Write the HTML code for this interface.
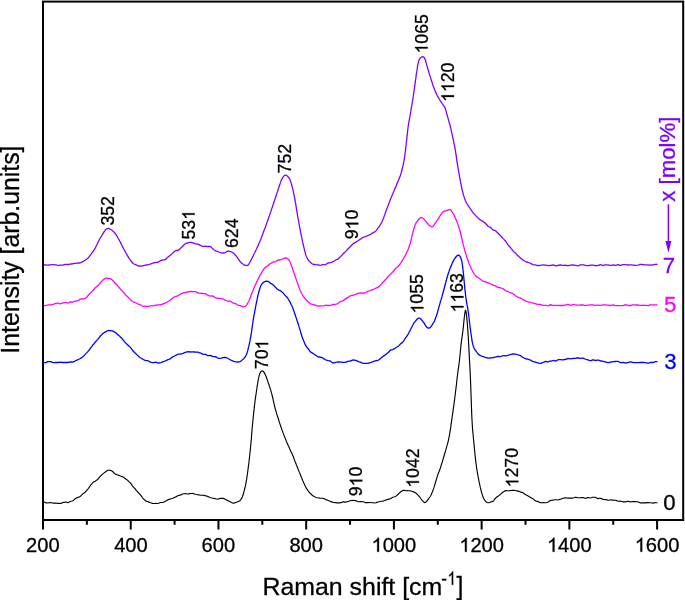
<!DOCTYPE html><html><head><meta charset="utf-8"><style>html,body{margin:0;padding:0;background:#fff;}svg{display:block;will-change:transform;}text{font-family:"Liberation Sans",sans-serif;}</style></head><body>
<svg width="685" height="600" viewBox="0 0 685 600">
<rect x="0" y="0" width="685" height="600" fill="#fff"/>
<g fill="none" stroke-linejoin="round" stroke-linecap="round">
<path d="M43.0,501.6 L43.7,501.8 L44.5,502.3 L45.5,502.8 L46.7,502.9 L47.9,503.0 L49.2,502.8 L50.5,502.6 L51.4,502.8 L52.4,503.0 L53.5,503.1 L54.6,503.1 L55.7,503.1 L56.8,503.2 L57.9,503.4 L59.0,503.4 L60.0,503.5 L61.0,503.4 L62.2,502.7 L63.4,502.4 L64.5,502.2 L65.6,502.1 L66.7,502.3 L67.8,502.6 L68.8,502.3 L69.8,501.7 L70.9,501.3 L72.0,501.0 L73.0,500.7 L74.0,499.9 L74.9,498.9 L75.9,498.3 L76.8,497.9 L77.7,497.6 L78.7,497.1 L79.6,496.7 L80.5,496.2 L81.3,495.4 L82.1,494.6 L82.9,493.9 L83.7,493.3 L84.5,492.8 L85.2,492.2 L85.8,491.4 L86.5,490.6 L87.3,489.7 L87.9,489.0 L88.6,488.1 L89.3,487.1 L90.0,486.0 L90.6,485.1 L91.3,484.3 L92.0,483.6 L92.6,482.9 L93.5,482.1 L94.4,481.6 L95.2,481.2 L96.0,480.6 L96.9,480.0 L97.6,479.5 L98.3,478.7 L99.0,477.8 L99.8,476.9 L100.5,476.0 L101.3,475.3 L102.2,474.4 L103.1,473.6 L104.1,472.9 L105.0,472.2 L105.9,471.6 L106.6,470.9 L108.1,470.2 L109.2,470.3 L110.5,470.4 L112.0,471.0 L112.7,471.6 L113.4,472.2 L114.1,473.0 L115.0,473.7 L116.2,474.4 L117.0,474.7 L117.9,475.0 L118.9,475.4 L119.9,475.8 L121.0,476.2 L122.1,476.6 L123.1,477.1 L124.1,477.7 L125.0,478.3 L125.9,479.0 L126.7,479.6 L127.5,480.2 L128.2,480.9 L128.9,481.6 L129.7,482.3 L130.4,483.0 L131.1,483.9 L131.8,484.9 L132.4,485.8 L133.1,486.6 L133.7,487.3 L134.3,488.0 L135.0,488.7 L135.7,489.5 L136.3,490.3 L137.0,491.1 L137.7,491.9 L138.4,492.8 L139.2,493.5 L139.9,494.3 L140.7,495.2 L141.4,496.2 L142.1,497.3 L142.8,498.2 L143.5,498.9 L144.4,499.7 L145.2,500.5 L146.0,501.1 L146.8,501.4 L147.6,501.5 L148.5,501.9 L149.5,502.4 L150.4,502.7 L151.5,503.0 L152.5,503.4 L153.6,503.5 L154.8,503.5 L155.7,503.4 L156.7,503.5 L157.7,503.5 L158.7,503.3 L159.7,502.8 L160.8,502.5 L161.8,502.5 L162.8,502.5 L163.8,502.1 L164.8,501.6 L165.8,501.1 L166.9,500.4 L167.9,499.8 L168.9,499.4 L169.9,499.1 L170.9,498.7 L171.9,498.5 L172.9,498.2 L173.8,497.7 L174.8,497.3 L175.8,496.9 L176.8,496.3 L177.8,495.7 L178.9,495.4 L179.9,495.2 L181.0,494.9 L182.0,494.3 L183.1,493.8 L184.2,493.7 L185.4,493.6 L186.4,493.7 L187.5,494.0 L188.5,493.9 L189.6,493.6 L190.6,493.5 L191.6,493.5 L192.5,493.4 L193.5,493.6 L194.5,494.0 L195.5,494.3 L196.6,494.5 L197.6,494.8 L198.6,494.9 L199.7,495.0 L200.8,495.2 L201.9,495.2 L202.9,495.2 L204.0,495.4 L205.1,495.7 L206.2,495.9 L207.2,496.2 L208.1,496.6 L209.1,497.0 L210.1,497.5 L211.1,497.8 L212.1,498.0 L213.0,498.2 L214.0,498.5 L214.9,498.6 L215.8,498.8 L216.9,499.0 L218.0,499.1 L219.1,498.8 L220.2,498.4 L221.2,498.3 L222.1,498.3 L223.1,498.3 L223.9,498.6 L225.1,499.3 L226.2,499.7 L227.1,500.2 L227.9,500.7 L228.7,500.9 L229.8,501.4 L230.6,502.0 L231.5,502.5 L232.4,502.9 L233.4,503.1 L234.5,503.0 L235.3,502.6 L236.3,502.3 L237.3,502.0 L238.2,501.5 L239.0,501.2 L240.2,500.4 L241.0,499.3 L241.6,498.4 L242.1,497.4 L242.8,495.8 L243.0,495.0 L243.3,494.1 L243.6,493.0 L243.9,491.9 L244.2,490.8 L244.5,489.6 L244.8,488.5 L245.0,487.5 L245.3,486.4 L245.5,485.4 L245.7,484.4 L245.9,483.4 L246.1,482.3 L246.3,481.2 L246.5,480.0 L246.7,479.1 L246.8,478.1 L246.9,477.1 L247.1,476.1 L247.2,475.0 L247.4,474.0 L247.5,472.9 L247.7,471.8 L247.9,470.6 L248.0,469.5 L248.1,468.6 L248.2,467.6 L248.4,466.7 L248.5,465.7 L248.6,464.8 L248.8,463.8 L248.9,462.8 L249.0,461.8 L249.1,460.7 L249.2,459.7 L249.4,458.6 L249.5,457.5 L249.6,456.6 L249.7,455.6 L249.8,454.7 L249.9,453.7 L250.0,452.7 L250.1,451.7 L250.2,450.7 L250.3,449.6 L250.4,448.6 L250.5,447.6 L250.6,446.5 L250.7,445.5 L250.8,444.5 L250.9,443.5 L251.0,442.5 L251.1,441.4 L251.2,440.4 L251.3,439.3 L251.4,438.2 L251.5,437.1 L251.5,436.0 L251.6,435.0 L251.7,433.9 L251.8,432.9 L251.9,431.8 L252.0,430.8 L252.0,429.9 L252.1,428.9 L252.2,428.0 L252.3,426.8 L252.4,425.7 L252.5,424.7 L252.6,423.7 L252.7,422.8 L252.8,421.8 L252.9,420.9 L253.0,419.8 L253.1,418.7 L253.2,417.5 L253.3,416.6 L253.4,415.7 L253.5,414.7 L253.6,413.7 L253.7,412.7 L253.8,411.6 L253.9,410.6 L254.1,409.5 L254.2,408.4 L254.3,407.4 L254.4,406.3 L254.5,405.3 L254.7,404.3 L254.8,403.3 L254.9,402.3 L255.0,401.2 L255.2,400.0 L255.3,398.9 L255.5,397.8 L255.6,396.7 L255.8,395.6 L256.0,394.6 L256.1,393.5 L256.3,392.5 L256.4,391.5 L256.6,390.5 L256.7,389.5 L256.9,388.4 L257.0,387.2 L257.2,386.1 L257.4,384.9 L257.6,383.9 L257.7,382.8 L257.9,381.8 L258.1,380.8 L258.2,379.9 L258.4,379.0 L258.7,377.6 L259.0,376.4 L259.3,375.2 L259.6,374.2 L259.9,373.3 L260.2,372.6 L261.1,371.3 L261.9,370.9 L262.8,371.0 L263.7,371.9 L264.2,372.6 L264.8,373.6 L265.4,374.9 L265.8,375.8 L266.2,376.8 L266.6,377.9 L267.0,379.1 L267.4,380.3 L267.8,381.4 L268.1,382.4 L268.5,383.3 L268.8,384.3 L269.1,385.2 L269.4,386.2 L269.8,387.2 L270.1,388.2 L270.4,389.2 L270.7,390.1 L271.0,391.1 L271.2,392.1 L271.5,393.2 L271.8,394.2 L272.1,395.4 L272.4,396.5 L272.6,397.5 L272.9,398.5 L273.1,399.6 L273.3,400.6 L273.6,401.7 L273.8,402.8 L274.1,403.9 L274.3,405.0 L274.5,406.0 L274.8,407.0 L275.1,408.1 L275.3,409.1 L275.6,410.0 L275.9,410.9 L276.1,411.9 L276.4,412.9 L276.7,413.9 L277.1,415.1 L277.5,416.3 L277.8,417.2 L278.1,418.1 L278.4,419.0 L278.7,420.0 L279.0,421.0 L279.3,422.0 L279.7,423.1 L280.0,424.1 L280.4,425.2 L280.7,426.3 L281.1,427.3 L281.5,428.4 L281.8,429.4 L282.2,430.4 L282.5,431.3 L282.9,432.4 L283.3,433.4 L283.7,434.4 L284.0,435.4 L284.4,436.3 L284.8,437.3 L285.2,438.2 L285.6,439.2 L286.0,440.1 L286.3,441.0 L286.7,441.9 L287.1,442.9 L287.5,443.8 L287.9,444.7 L288.3,445.7 L288.8,446.6 L289.2,447.5 L289.6,448.5 L290.0,449.4 L290.4,450.3 L290.8,451.2 L291.2,452.1 L291.7,453.0 L292.1,453.9 L292.5,454.9 L292.9,455.8 L293.3,456.7 L293.7,457.7 L294.0,458.7 L294.4,459.7 L294.8,460.8 L295.2,461.8 L295.6,462.7 L296.0,463.7 L296.3,464.7 L296.7,465.6 L297.1,466.6 L297.5,467.5 L297.9,468.5 L298.3,469.5 L298.7,470.4 L299.0,471.4 L299.4,472.4 L299.8,473.3 L300.2,474.3 L300.6,475.3 L301.0,476.3 L301.3,477.2 L301.7,478.2 L302.1,479.1 L302.5,480.0 L302.9,481.0 L303.4,482.0 L303.8,483.0 L304.3,484.0 L304.7,484.9 L305.1,485.8 L305.6,486.7 L306.0,487.6 L306.5,488.4 L307.0,489.2 L307.5,489.9 L308.2,490.9 L308.9,491.8 L309.6,492.7 L310.4,493.5 L311.2,494.2 L312.0,495.0 L312.8,495.7 L313.8,496.3 L314.6,496.8 L315.6,497.2 L316.5,497.5 L317.5,497.8 L318.6,498.0 L319.6,498.1 L320.6,498.2 L321.6,498.2 L322.5,498.3 L323.6,498.6 L324.7,499.1 L325.7,499.6 L326.8,499.9 L327.8,500.3 L328.9,500.7 L330.0,501.3 L331.0,501.6 L332.0,502.0 L333.0,502.4 L334.1,502.5 L335.1,502.6 L336.3,502.8 L337.5,502.8 L338.8,502.9 L339.7,502.8 L340.6,502.8 L341.6,502.4 L342.6,501.9 L343.6,501.8 L344.7,502.1 L345.7,502.1 L346.8,501.8 L347.9,501.6 L348.9,501.2 L349.9,500.7 L350.9,500.5 L351.9,500.5 L353.0,500.4 L354.1,500.5 L355.2,500.6 L356.2,500.8 L357.2,501.5 L358.3,501.8 L359.3,501.7 L360.3,501.5 L361.3,501.6 L362.3,501.7 L363.3,501.8 L364.4,502.2 L365.5,502.6 L366.6,502.6 L367.6,502.6 L368.7,502.6 L369.8,502.5 L370.8,502.5 L371.8,502.7 L372.8,502.7 L373.8,502.8 L374.9,503.0 L375.9,502.8 L376.9,502.4 L377.9,502.0 L378.9,501.8 L379.8,501.5 L380.7,501.3 L381.7,501.2 L382.6,501.2 L383.6,500.9 L384.7,500.5 L385.7,500.1 L386.7,499.7 L387.7,499.4 L388.6,499.1 L389.6,498.9 L390.4,498.7 L391.6,498.0 L392.7,497.3 L393.8,497.0 L394.7,496.7 L395.7,496.3 L396.6,495.6 L397.5,494.8 L398.4,494.0 L399.2,493.1 L400.1,492.3 L401.2,491.5 L402.2,490.8 L403.3,490.2 L404.5,490.4 L405.4,490.7 L406.5,490.7 L407.6,490.6 L408.6,490.7 L409.7,490.8 L410.6,490.9 L411.8,491.3 L412.9,491.6 L413.9,491.9 L415.0,492.5 L415.7,493.0 L416.4,493.5 L417.1,494.1 L417.8,494.8 L418.5,495.7 L419.3,496.5 L420.0,497.4 L420.7,498.5 L421.5,499.5 L422.3,500.6 L423.1,501.4 L423.8,502.1 L424.6,502.6 L425.4,502.5 L426.2,501.9 L427.0,500.9 L427.8,499.8 L428.5,498.8 L429.2,497.9 L429.9,497.0 L430.4,496.2 L430.9,495.3 L431.3,494.5 L431.7,493.6 L432.1,492.6 L432.5,491.6 L432.9,490.4 L433.4,489.1 L433.7,488.3 L434.0,487.4 L434.3,486.4 L434.6,485.3 L435.0,484.2 L435.3,483.1 L435.6,481.9 L436.0,480.8 L436.3,479.7 L436.6,478.6 L436.9,477.6 L437.2,476.6 L437.5,475.7 L437.7,474.9 L438.2,473.5 L438.6,472.6 L438.9,471.9 L439.2,471.2 L439.5,470.4 L440.0,469.1 L440.3,468.3 L440.5,467.5 L440.8,466.6 L441.1,465.6 L441.4,464.6 L441.7,463.6 L442.1,462.5 L442.4,461.5 L442.7,460.4 L443.0,459.3 L443.4,458.2 L443.7,457.1 L444.0,456.0 L444.3,455.1 L444.6,454.0 L444.9,453.0 L445.2,452.0 L445.5,450.9 L445.8,449.9 L446.1,448.8 L446.4,447.8 L446.7,446.7 L447.0,445.7 L447.3,444.7 L447.5,443.8 L447.8,442.8 L448.0,442.0 L448.3,440.8 L448.5,439.8 L448.7,438.8 L448.9,437.9 L449.1,437.0 L449.3,436.1 L449.5,435.2 L449.6,434.2 L449.8,433.1 L450.0,432.0 L450.1,431.1 L450.3,430.2 L450.4,429.3 L450.6,428.3 L450.7,427.3 L450.9,426.3 L451.0,425.3 L451.1,424.2 L451.3,423.2 L451.4,422.1 L451.6,421.1 L451.7,420.0 L451.9,419.0 L452.0,418.0 L452.1,417.0 L452.3,416.0 L452.4,415.0 L452.6,414.1 L452.7,413.1 L452.9,412.1 L453.0,411.1 L453.1,410.1 L453.3,409.1 L453.4,408.1 L453.6,407.1 L453.7,406.1 L453.9,405.1 L454.0,404.0 L454.1,403.0 L454.3,402.1 L454.4,401.1 L454.5,400.1 L454.6,399.0 L454.8,398.0 L454.9,397.0 L455.0,395.9 L455.2,394.9 L455.3,393.9 L455.4,392.8 L455.5,391.8 L455.7,390.8 L455.8,389.9 L455.9,388.9 L456.0,388.0 L456.1,386.9 L456.3,385.9 L456.4,384.8 L456.5,383.8 L456.6,382.9 L456.7,381.9 L456.8,381.0 L456.9,380.0 L457.0,379.0 L457.1,378.1 L457.2,377.1 L457.4,376.1 L457.5,375.0 L457.6,374.1 L457.7,373.1 L457.9,372.1 L458.0,371.1 L458.1,370.1 L458.3,369.1 L458.4,368.1 L458.6,367.1 L458.7,366.1 L458.9,365.1 L459.0,364.0 L459.1,363.0 L459.3,362.0 L459.4,361.0 L459.5,360.0 L459.6,359.0 L459.7,358.0 L459.8,357.0 L459.9,356.0 L460.0,355.0 L460.1,354.0 L460.2,353.0 L460.3,352.0 L460.4,351.0 L460.5,350.0 L460.6,349.0 L460.7,348.0 L460.8,347.0 L460.9,346.0 L461.0,345.0 L461.1,344.0 L461.2,343.0 L461.4,342.0 L461.5,341.0 L461.6,340.0 L461.8,338.9 L461.9,337.9 L462.1,336.9 L462.2,335.9 L462.4,334.9 L462.5,333.9 L462.6,332.9 L462.8,331.9 L462.9,331.0 L463.0,330.0 L463.1,328.9 L463.2,327.9 L463.4,326.8 L463.5,325.7 L463.6,324.6 L463.7,323.5 L463.8,322.4 L463.9,321.3 L464.0,320.3 L464.1,319.3 L464.2,318.4 L464.3,317.5 L464.4,316.7 L464.5,316.0 L464.7,314.2 L464.9,312.7 L465.1,311.6 L465.3,310.8 L465.5,310.3 L465.7,310.6 L466.0,311.5 L466.2,312.9 L466.5,315.0 L466.6,315.7 L466.7,316.5 L466.7,317.3 L466.8,318.3 L466.9,319.2 L467.0,320.2 L467.1,321.3 L467.2,322.4 L467.3,323.5 L467.4,324.6 L467.5,325.7 L467.6,326.8 L467.6,327.9 L467.7,329.0 L467.8,330.0 L467.9,331.0 L467.9,332.0 L468.0,333.0 L468.1,334.0 L468.1,335.0 L468.2,336.0 L468.3,337.0 L468.3,338.0 L468.4,339.0 L468.4,340.0 L468.5,341.0 L468.5,342.0 L468.6,343.0 L468.6,344.0 L468.7,345.0 L468.8,346.0 L468.8,347.0 L468.9,347.9 L468.9,348.9 L469.0,349.8 L469.0,350.8 L469.1,351.7 L469.1,352.7 L469.2,353.6 L469.2,354.6 L469.3,355.6 L469.3,356.7 L469.4,357.8 L469.4,358.9 L469.5,360.0 L469.5,360.9 L469.6,361.7 L469.6,362.5 L469.7,363.4 L469.7,364.2 L469.8,365.0 L469.8,365.8 L469.9,366.7 L469.9,367.5 L470.0,368.4 L470.0,369.4 L470.1,370.3 L470.1,371.3 L470.2,372.4 L470.2,373.5 L470.3,374.6 L470.3,375.9 L470.4,377.2 L470.4,378.5 L470.5,380.0 L470.5,380.8 L470.6,381.6 L470.6,382.4 L470.6,383.3 L470.7,384.2 L470.7,385.1 L470.7,386.1 L470.8,387.0 L470.8,388.0 L470.8,389.1 L470.9,390.1 L470.9,391.2 L470.9,392.2 L471.0,393.3 L471.0,394.4 L471.1,395.5 L471.1,396.6 L471.1,397.8 L471.2,398.9 L471.2,400.0 L471.3,401.1 L471.3,402.2 L471.3,403.4 L471.4,404.5 L471.4,405.6 L471.4,406.7 L471.5,407.8 L471.5,408.8 L471.6,409.9 L471.6,410.9 L471.6,412.0 L471.7,413.0 L471.7,413.9 L471.8,414.9 L471.8,415.8 L471.8,416.7 L471.9,417.6 L471.9,418.4 L472.0,419.2 L472.0,420.0 L472.1,421.5 L472.2,422.8 L472.2,424.1 L472.3,425.3 L472.4,426.4 L472.5,427.5 L472.5,428.5 L472.6,429.4 L472.7,430.4 L472.8,431.2 L472.8,432.1 L472.9,433.0 L473.0,433.8 L473.1,434.6 L473.2,435.5 L473.3,436.3 L473.3,437.2 L473.4,438.1 L473.5,439.0 L473.6,440.0 L473.7,441.0 L473.8,442.0 L473.9,443.0 L474.0,444.1 L474.1,445.1 L474.2,446.1 L474.3,447.2 L474.4,448.2 L474.5,449.2 L474.6,450.3 L474.7,451.3 L474.8,452.3 L474.9,453.3 L475.0,454.3 L475.1,455.3 L475.2,456.3 L475.3,457.2 L475.4,458.2 L475.5,459.1 L475.6,460.0 L475.7,461.1 L475.9,462.2 L476.0,463.3 L476.2,464.3 L476.3,465.4 L476.4,466.4 L476.6,467.4 L476.7,468.4 L476.9,469.4 L477.0,470.3 L477.2,471.3 L477.3,472.2 L477.5,473.2 L477.7,474.1 L477.8,475.0 L478.0,476.0 L478.2,477.1 L478.4,478.1 L478.6,479.2 L478.8,480.3 L479.0,481.4 L479.2,482.4 L479.5,483.5 L479.7,484.5 L479.9,485.5 L480.1,486.5 L480.3,487.4 L480.6,488.3 L480.8,489.2 L481.0,490.1 L481.3,491.3 L481.6,492.5 L482.0,493.6 L482.3,494.7 L482.6,495.7 L482.9,496.6 L483.3,497.5 L483.6,498.3 L484.0,499.1 L484.7,500.2 L485.5,501.2 L486.3,502.0 L487.1,502.5 L488.0,502.7 L488.9,502.6 L489.9,502.3 L491.0,501.9 L492.0,501.8 L493.0,501.4 L493.7,500.6 L494.4,499.7 L495.1,498.7 L495.8,497.9 L496.5,497.3 L497.2,496.8 L498.0,496.3 L498.8,495.6 L499.6,495.0 L500.4,494.4 L501.3,493.6 L502.2,492.8 L503.1,492.1 L504.0,491.5 L505.0,490.9 L506.0,490.6 L507.0,490.7 L508.0,490.8 L509.0,490.7 L510.0,490.6 L511.0,490.5 L512.0,490.3 L513.0,490.3 L514.0,490.4 L515.0,490.5 L516.0,490.7 L517.0,490.9 L517.9,491.1 L518.9,491.4 L519.9,491.7 L520.9,492.1 L522.0,492.4 L523.0,492.8 L524.0,493.5 L524.9,494.2 L525.8,494.8 L526.7,495.2 L527.7,495.7 L528.6,496.3 L529.4,496.8 L530.2,497.2 L531.0,497.7 L532.0,498.3 L532.9,498.8 L533.7,499.4 L534.5,500.2 L535.5,500.9 L536.4,501.2 L537.4,501.4 L538.4,501.8 L539.5,502.4 L540.7,502.7 L542.0,502.7 L542.8,502.6 L543.7,502.6 L544.7,502.8 L545.7,502.7 L546.7,502.5 L547.7,502.2 L548.7,501.7 L549.8,500.8 L550.9,500.4 L551.9,500.3 L552.8,500.1 L553.8,500.0 L554.7,499.8 L555.7,499.7 L556.7,499.8 L557.6,500.0 L558.6,499.8 L559.6,499.4 L560.7,499.2 L561.7,498.7 L562.8,498.3 L563.7,498.2 L564.7,497.9 L565.7,497.8 L566.8,498.0 L567.8,498.1 L568.9,498.1 L569.9,498.1 L571.0,498.1 L572.0,498.1 L573.1,498.0 L574.1,497.7 L575.1,497.3 L576.0,497.3 L577.2,497.7 L578.4,497.8 L579.5,497.7 L580.6,497.7 L581.7,497.6 L582.8,497.6 L583.9,497.8 L584.9,498.2 L585.9,498.3 L586.9,497.9 L588.1,497.5 L589.2,497.7 L590.3,498.0 L591.3,497.8 L592.3,497.3 L593.4,497.2 L594.5,497.3 L595.7,497.4 L596.6,497.9 L597.6,498.4 L598.5,498.6 L599.5,498.3 L600.5,498.2 L601.5,498.6 L602.5,499.2 L603.6,499.4 L604.6,499.5 L605.6,499.6 L606.6,499.8 L607.6,500.1 L608.6,500.2 L609.6,500.0 L610.6,499.9 L611.6,500.0 L612.6,500.1 L613.6,500.1 L614.6,500.2 L615.6,500.3 L616.6,500.6 L617.6,501.1 L618.7,501.2 L619.8,501.1 L620.9,501.2 L622.0,501.5 L623.0,501.8 L624.1,501.8 L625.2,501.9 L626.3,501.8 L627.4,501.3 L628.5,501.3 L629.5,501.7 L630.4,501.9 L631.3,501.8 L632.2,501.6 L633.1,501.6 L634.1,501.6 L635.0,501.6 L636.0,501.7 L637.1,501.8 L638.3,501.9 L639.5,502.5 L640.4,502.9 L641.4,502.9 L642.4,502.9 L643.5,502.9 L644.7,502.9 L645.9,502.9 L647.1,502.6 L648.3,502.5 L649.5,502.7 L650.7,502.8 L651.9,503.0 L652.9,503.1 L653.9,502.9 L654.9,502.7 L655.7,502.6 L656.4,502.7 L657.0,502.8" stroke="#000000" stroke-width="1.15"/>
<path d="M43.0,362.5 L43.6,362.6 L44.2,362.6 L44.9,362.6 L45.7,362.6 L46.6,362.1 L47.6,361.6 L48.6,361.6 L49.7,361.6 L50.8,361.7 L51.9,362.2 L53.1,362.6 L54.3,362.6 L55.5,362.5 L56.7,362.5 L58.0,362.5 L59.2,362.3 L60.4,362.1 L61.6,362.3 L62.7,362.5 L63.8,362.5 L64.9,362.5 L65.9,362.5 L66.9,362.5 L67.8,362.5 L68.6,362.4 L69.3,362.1 L70.0,361.9 L72.2,362.0 L73.4,361.9 L74.1,361.7 L74.6,361.4 L75.1,361.0 L76.0,360.4 L76.8,360.2 L77.6,359.9 L78.5,359.4 L79.4,359.0 L80.3,358.5 L81.3,357.9 L82.2,357.2 L83.2,356.5 L84.1,355.6 L85.0,354.6 L85.7,353.9 L86.4,353.1 L87.1,352.4 L87.8,351.6 L88.5,350.7 L89.2,349.9 L89.8,349.0 L90.5,348.1 L91.2,347.2 L91.9,346.3 L92.6,345.3 L93.3,344.5 L94.0,343.7 L94.7,342.8 L95.4,342.0 L96.1,341.1 L96.8,340.4 L97.6,339.6 L98.3,338.7 L99.0,337.8 L99.7,336.9 L100.4,336.0 L101.1,335.3 L101.7,334.6 L102.4,334.0 L103.0,333.4 L104.1,332.7 L105.1,332.2 L106.1,331.7 L107.0,331.0 L108.0,330.6 L109.0,330.5 L110.0,330.6 L110.8,330.7 L111.7,330.8 L112.6,331.0 L113.4,331.4 L114.3,331.9 L115.2,332.4 L116.1,333.1 L117.1,334.0 L118.0,334.8 L118.7,335.4 L119.5,336.0 L120.2,336.7 L121.0,337.4 L121.8,338.3 L122.5,339.3 L123.3,340.1 L124.1,341.1 L124.8,342.1 L125.6,342.9 L126.3,343.6 L127.0,344.2 L127.8,345.0 L128.6,345.8 L129.4,346.4 L130.1,347.1 L130.8,347.9 L131.5,348.9 L132.3,349.9 L132.9,350.8 L133.6,351.5 L134.3,352.2 L135.1,353.0 L135.9,353.7 L136.6,354.4 L137.3,355.1 L138.0,355.8 L138.8,356.5 L139.5,357.2 L140.4,357.8 L141.3,358.3 L142.3,358.8 L143.2,359.3 L144.2,359.8 L145.3,360.3 L146.4,360.6 L147.5,360.6 L148.6,361.0 L149.5,361.7 L150.5,362.2 L151.6,362.4 L152.6,362.6 L153.7,362.7 L154.8,362.3 L155.8,362.2 L156.9,362.7 L157.9,363.0 L158.8,363.0 L159.9,362.9 L161.0,362.6 L162.0,362.2 L163.0,361.7 L164.0,361.4 L165.0,361.0 L166.0,360.6 L167.0,360.1 L167.9,359.6 L168.9,359.3 L169.8,358.9 L170.8,358.4 L171.7,357.6 L172.6,356.9 L173.5,356.3 L174.4,356.0 L175.2,355.7 L176.3,355.2 L177.3,354.5 L178.2,354.1 L179.2,354.2 L180.2,354.2 L181.3,353.9 L182.2,353.7 L183.2,353.4 L184.2,352.8 L185.3,352.3 L186.3,352.0 L187.4,351.9 L188.5,351.7 L189.5,351.9 L190.5,352.0 L191.6,351.9 L192.7,351.9 L193.7,352.0 L194.8,352.0 L195.8,352.1 L196.8,352.1 L197.7,352.2 L198.8,352.5 L199.8,352.8 L200.8,353.2 L201.7,353.7 L202.7,354.2 L203.8,354.4 L204.7,354.3 L205.7,354.3 L206.7,355.0 L207.8,355.6 L208.8,355.6 L209.9,355.4 L211.0,355.6 L212.0,356.2 L213.0,356.7 L214.1,356.7 L215.1,356.7 L216.2,357.0 L217.2,357.8 L218.2,358.2 L219.2,358.3 L220.1,358.3 L221.2,358.2 L222.2,357.9 L223.1,357.6 L224.1,357.5 L225.1,357.4 L226.3,357.7 L227.1,358.0 L228.0,358.5 L228.9,359.0 L229.9,359.5 L230.8,360.1 L231.8,360.5 L232.8,360.9 L233.7,361.3 L234.7,361.6 L235.5,361.8 L236.7,361.9 L237.8,362.0 L238.8,361.8 L239.9,361.6 L240.9,361.1 L241.8,360.4 L242.6,359.6 L243.5,358.9 L244.2,358.1 L244.9,357.3 L245.5,356.4 L246.1,355.3 L246.7,353.9 L246.9,353.2 L247.2,352.4 L247.4,351.6 L247.7,350.7 L247.9,349.8 L248.2,348.8 L248.4,347.8 L248.7,346.7 L248.9,345.7 L249.2,344.6 L249.4,343.5 L249.6,342.3 L249.9,341.2 L250.1,340.1 L250.3,339.0 L250.5,337.9 L250.7,337.0 L250.9,336.0 L251.0,334.9 L251.2,333.9 L251.4,332.9 L251.5,331.8 L251.7,330.8 L251.8,329.7 L252.0,328.6 L252.1,327.6 L252.3,326.5 L252.4,325.5 L252.6,324.4 L252.7,323.4 L252.9,322.4 L253.0,321.4 L253.1,320.5 L253.3,319.5 L253.5,318.4 L253.7,317.2 L253.9,316.1 L254.1,315.0 L254.3,313.9 L254.5,312.9 L254.7,311.8 L254.8,310.8 L255.0,309.8 L255.2,308.8 L255.4,307.8 L255.6,306.8 L255.8,305.9 L256.0,304.9 L256.2,303.8 L256.4,302.8 L256.6,301.7 L256.9,300.6 L257.1,299.6 L257.3,298.5 L257.5,297.5 L257.7,296.5 L257.9,295.5 L258.2,294.6 L258.4,293.7 L258.6,292.8 L258.8,292.0 L259.2,290.6 L259.6,289.3 L260.0,288.1 L260.3,287.1 L260.7,286.1 L261.1,285.3 L261.5,284.6 L262.4,283.4 L263.3,282.6 L264.3,281.8 L265.4,281.3 L266.7,281.1 L267.9,281.3 L268.8,281.8 L269.7,282.6 L270.6,283.4 L271.6,283.9 L272.3,284.2 L273.0,284.7 L273.8,285.5 L274.6,286.4 L275.4,287.3 L276.2,288.1 L277.1,288.9 L278.0,289.6 L278.9,290.1 L279.8,290.4 L280.8,291.0 L281.7,291.8 L282.5,292.4 L283.3,293.1 L284.1,294.1 L284.9,295.1 L285.7,296.0 L286.5,296.7 L287.2,297.5 L287.8,298.2 L288.3,299.1 L288.8,300.0 L289.4,300.9 L289.9,301.9 L290.4,302.9 L290.9,303.9 L291.3,304.8 L291.8,305.7 L292.2,306.6 L292.6,307.6 L293.0,308.5 L293.3,309.5 L293.7,310.6 L294.1,311.6 L294.4,312.7 L294.8,313.7 L295.1,314.8 L295.5,315.9 L295.8,316.8 L296.2,317.8 L296.5,318.8 L296.8,319.7 L297.1,320.7 L297.5,321.7 L297.8,322.7 L298.1,323.7 L298.4,324.8 L298.8,325.8 L299.1,326.9 L299.4,327.9 L299.7,328.9 L300.0,329.9 L300.3,330.9 L300.6,332.0 L300.9,333.0 L301.2,334.0 L301.5,335.0 L301.8,336.0 L302.1,336.9 L302.5,337.8 L302.8,338.7 L303.2,339.7 L303.6,340.8 L304.1,341.8 L304.5,342.9 L304.9,343.9 L305.4,344.9 L305.9,345.7 L306.4,346.5 L306.9,347.2 L307.4,347.8 L308.0,348.5 L308.7,349.4 L309.3,350.4 L310.0,351.3 L310.7,352.1 L311.5,352.6 L312.2,352.9 L313.0,353.4 L313.8,354.0 L314.6,354.6 L315.6,355.2 L316.5,355.8 L317.5,356.6 L318.4,357.0 L319.4,357.0 L320.3,357.0 L321.3,357.4 L322.1,357.7 L323.3,358.3 L324.4,359.1 L325.5,359.8 L326.5,360.1 L327.5,360.3 L328.5,360.6 L329.6,360.9 L330.7,361.2 L331.8,362.2 L332.9,363.0 L334.0,362.9 L334.9,362.5 L335.9,362.3 L336.8,362.2 L337.8,362.0 L338.9,361.9 L340.0,362.1 L340.9,362.1 L341.9,362.2 L342.9,362.3 L344.0,362.3 L345.0,362.3 L346.1,362.2 L347.1,361.7 L348.0,361.3 L349.2,361.2 L350.3,361.1 L351.4,360.6 L352.5,360.1 L353.5,359.9 L354.5,360.1 L355.8,360.4 L357.0,360.9 L358.1,361.4 L359.3,361.8 L360.3,362.1 L361.4,362.6 L362.5,363.1 L363.7,363.4 L364.9,363.4 L365.9,363.4 L366.9,363.4 L367.9,363.3 L369.0,363.0 L370.1,362.6 L371.1,362.3 L372.1,361.9 L373.2,361.6 L374.3,361.2 L375.4,360.8 L376.4,360.6 L377.5,360.5 L378.5,360.0 L379.4,359.4 L380.2,358.7 L381.0,358.1 L381.8,357.4 L382.6,356.7 L383.4,356.1 L384.2,355.6 L385.0,355.1 L385.8,354.4 L386.6,353.8 L387.4,353.2 L388.2,352.6 L389.0,351.7 L389.8,350.8 L390.7,350.0 L391.7,349.8 L392.6,349.6 L393.5,349.2 L394.5,348.6 L395.4,348.0 L396.2,347.5 L397.0,347.0 L397.8,346.5 L398.6,345.9 L399.4,345.1 L400.2,344.3 L401.0,343.6 L401.6,343.1 L402.3,342.6 L402.9,341.9 L403.6,341.1 L404.2,340.0 L404.8,339.0 L405.5,338.1 L406.0,337.3 L406.6,336.5 L407.2,335.7 L407.7,334.8 L408.3,333.9 L408.8,333.0 L409.2,332.0 L409.7,331.1 L410.2,330.2 L410.7,329.3 L411.2,328.3 L411.7,327.3 L412.2,326.3 L412.7,325.2 L413.2,324.3 L413.7,323.4 L414.2,322.7 L414.7,322.1 L415.5,321.1 L416.2,320.2 L417.0,319.3 L417.7,318.6 L418.4,318.2 L419.8,318.2 L421.1,319.3 L421.7,320.0 L422.3,320.7 L422.9,321.6 L423.6,322.5 L424.3,323.4 L424.9,324.4 L425.5,325.4 L426.2,326.5 L426.9,327.3 L427.6,327.9 L428.3,328.0 L429.0,328.1 L429.7,327.8 L430.4,327.2 L431.1,326.4 L431.8,325.4 L432.5,324.4 L433.1,323.4 L433.6,322.6 L434.0,321.8 L434.5,321.0 L434.9,320.1 L435.2,319.1 L435.6,318.1 L436.0,317.0 L436.4,315.8 L436.7,314.9 L437.0,314.0 L437.3,313.1 L437.5,312.1 L437.8,311.1 L438.1,310.0 L438.4,309.0 L438.7,307.9 L439.0,306.8 L439.3,305.7 L439.6,304.6 L439.9,303.7 L440.1,302.8 L440.4,301.8 L440.7,300.9 L441.0,299.9 L441.3,298.9 L441.6,297.9 L441.9,296.9 L442.1,295.9 L442.4,294.8 L442.7,293.8 L443.0,292.8 L443.3,291.8 L443.6,290.8 L443.9,289.8 L444.1,288.8 L444.4,287.8 L444.6,286.8 L444.9,285.8 L445.2,284.8 L445.4,283.7 L445.7,282.7 L445.9,281.7 L446.2,280.7 L446.5,279.7 L446.7,278.7 L447.0,277.8 L447.2,276.8 L447.5,276.0 L447.9,274.8 L448.2,273.7 L448.6,272.6 L449.0,271.5 L449.3,270.5 L449.7,269.5 L450.1,268.6 L450.4,267.6 L450.8,266.7 L451.2,265.9 L451.5,265.0 L452.0,263.8 L452.5,262.6 L453.0,261.6 L453.5,260.6 L454.0,259.7 L454.5,258.9 L455.0,258.2 L455.9,257.0 L456.8,256.0 L457.7,255.3 L458.5,255.2 L459.2,255.4 L459.8,256.1 L460.4,257.1 L461.0,258.5 L461.5,260.0 L461.7,260.8 L461.9,261.6 L462.1,262.5 L462.2,263.4 L462.3,264.4 L462.5,265.4 L462.6,266.5 L462.7,267.6 L462.9,268.8 L463.0,270.0 L463.1,270.9 L463.2,271.7 L463.3,272.7 L463.4,273.6 L463.5,274.6 L463.6,275.6 L463.7,276.7 L463.8,277.7 L463.9,278.8 L464.0,279.8 L464.1,280.9 L464.2,281.9 L464.3,283.0 L464.4,284.0 L464.5,285.0 L464.6,286.0 L464.7,287.0 L464.8,288.1 L464.9,289.1 L465.0,290.2 L465.2,291.2 L465.3,292.3 L465.4,293.3 L465.5,294.4 L465.6,295.4 L465.7,296.4 L465.9,297.3 L466.0,298.2 L466.1,299.1 L466.2,300.0 L466.4,301.1 L466.5,302.1 L466.7,303.0 L466.9,303.9 L467.0,304.7 L467.2,305.5 L467.4,306.4 L467.6,307.4 L467.8,308.6 L468.0,310.0 L468.1,310.8 L468.2,311.6 L468.3,312.5 L468.5,313.5 L468.6,314.4 L468.7,315.5 L468.8,316.5 L469.0,317.6 L469.1,318.7 L469.2,319.8 L469.4,320.9 L469.5,322.0 L469.6,323.1 L469.8,324.2 L469.9,325.2 L470.0,326.3 L470.1,327.3 L470.3,328.2 L470.4,329.1 L470.5,330.0 L470.7,331.2 L470.8,332.4 L471.0,333.6 L471.2,334.7 L471.3,335.8 L471.5,336.9 L471.6,337.9 L471.8,338.8 L471.9,339.7 L472.0,340.6 L472.2,341.4 L472.3,342.2 L472.5,343.0 L472.8,344.4 L473.1,345.6 L473.5,346.6 L473.8,347.4 L474.1,348.1 L474.5,348.9 L475.1,349.9 L475.7,350.7 L476.3,351.5 L477.0,352.5 L477.7,353.5 L478.5,354.3 L479.2,354.9 L480.0,355.3 L480.9,355.8 L481.8,356.2 L483.0,356.5 L483.8,356.8 L484.7,357.2 L485.8,357.5 L486.8,357.8 L487.9,358.0 L489.0,358.1 L489.9,358.0 L490.9,357.9 L491.9,357.9 L492.9,357.7 L494.0,357.5 L495.0,357.2 L496.0,356.9 L497.0,356.7 L498.0,356.5 L499.0,356.5 L500.0,356.6 L501.0,356.4 L502.0,356.0 L503.0,355.7 L504.0,355.7 L505.0,355.9 L506.0,355.8 L507.0,355.5 L508.0,355.3 L509.0,355.0 L510.0,354.7 L511.0,354.5 L512.0,354.2 L513.0,354.0 L514.0,354.0 L515.0,354.1 L516.0,354.2 L517.0,354.5 L518.0,354.8 L519.0,355.1 L519.9,355.3 L520.9,355.9 L521.9,356.7 L522.9,357.4 L524.0,358.0 L525.0,358.4 L526.0,358.8 L527.0,359.0 L528.0,359.2 L529.0,359.6 L530.0,359.9 L531.0,360.3 L532.0,361.1 L533.1,361.7 L534.1,361.9 L535.1,362.0 L536.1,362.3 L537.0,362.7 L538.0,362.9 L539.0,363.2 L540.0,363.4 L541.0,363.3 L541.9,362.9 L542.9,362.5 L543.9,362.1 L544.9,361.6 L546.0,361.4 L547.0,361.8 L547.9,362.0 L548.9,361.7 L549.9,361.2 L551.0,361.1 L552.0,360.8 L553.0,360.5 L554.0,360.7 L555.0,361.0 L556.0,360.8 L557.0,360.3 L557.9,359.8 L558.9,359.7 L559.9,359.7 L561.0,359.6 L562.0,359.8 L563.0,359.9 L563.9,359.7 L564.9,359.5 L565.9,359.3 L566.9,358.8 L568.0,358.5 L569.0,358.6 L570.0,358.8 L571.0,358.7 L572.0,358.6 L573.0,358.5 L574.0,358.4 L575.0,358.4 L576.0,358.2 L577.0,358.0 L578.0,357.8 L579.0,358.0 L580.0,358.3 L581.0,358.3 L582.0,358.2 L583.1,358.2 L584.1,358.6 L585.1,359.0 L586.1,359.3 L587.2,359.6 L588.2,359.8 L589.2,360.3 L590.2,360.7 L591.2,360.6 L592.2,360.0 L593.3,359.8 L594.3,360.1 L595.3,360.5 L596.3,360.4 L597.3,360.1 L598.3,360.1 L599.3,360.4 L600.3,360.8 L601.3,361.0 L602.3,361.2 L603.3,361.4 L604.4,361.7 L605.4,362.0 L606.4,362.2 L607.4,362.6 L608.4,362.6 L609.5,362.4 L610.5,362.2 L611.6,362.0 L612.6,361.7 L613.7,361.6 L614.7,361.5 L615.7,361.5 L616.6,361.4 L617.7,361.4 L618.7,361.7 L619.6,362.2 L620.5,362.6 L621.5,362.6 L622.6,362.5 L623.9,362.7 L624.8,362.9 L625.7,363.0 L626.7,362.8 L627.7,362.6 L628.8,362.4 L629.9,361.9 L631.0,361.8 L632.2,362.3 L633.3,362.5 L634.4,362.6 L635.5,362.6 L636.6,362.6 L637.7,362.6 L638.8,362.6 L639.9,362.5 L641.1,362.5 L642.2,362.4 L643.3,362.5 L644.4,362.6 L645.5,362.7 L646.6,362.9 L647.6,363.1 L648.5,363.1 L649.4,362.8 L650.8,362.4 L652.2,362.5 L653.4,362.3 L654.5,362.0 L655.5,361.7 L656.4,361.7 L657.0,361.7" stroke="#0000ff" stroke-width="1.3"/>
<path d="M43.0,305.7 L43.6,305.6 L44.3,305.7 L45.2,305.6 L46.1,305.5 L47.2,305.1 L48.3,304.9 L49.5,304.9 L50.6,304.8 L51.8,304.6 L53.0,304.4 L53.9,304.1 L54.9,303.6 L55.9,303.4 L56.9,303.2 L57.9,303.1 L59.0,303.3 L60.1,303.8 L61.1,303.6 L62.2,303.1 L63.2,302.8 L64.2,302.6 L65.1,302.5 L66.0,302.5 L67.2,302.9 L68.4,302.9 L69.6,302.3 L70.7,302.0 L71.8,302.0 L72.8,302.0 L73.8,301.7 L74.7,301.3 L75.5,301.1 L76.9,300.8 L78.0,300.6 L78.9,300.1 L80.0,299.4 L80.9,299.0 L82.0,299.0 L83.0,298.9 L84.1,298.7 L85.1,298.4 L86.0,297.8 L86.9,297.0 L87.6,296.1 L88.3,295.3 L89.1,294.4 L90.0,293.5 L90.6,292.9 L91.3,292.2 L92.0,291.4 L92.8,290.7 L93.6,289.8 L94.4,288.8 L95.2,287.9 L95.9,287.1 L96.7,286.6 L97.4,286.1 L98.2,285.3 L99.0,284.4 L99.7,283.6 L100.5,282.7 L101.2,281.9 L101.9,281.1 L102.6,280.4 L103.3,279.8 L104.4,278.9 L105.4,278.2 L106.4,278.2 L107.3,278.5 L108.3,278.7 L109.3,278.6 L110.2,278.7 L111.2,279.3 L112.2,280.1 L113.3,281.0 L113.9,281.6 L114.5,282.2 L115.2,283.0 L115.9,283.7 L116.5,284.5 L117.2,285.2 L117.9,286.1 L118.6,286.9 L119.3,287.8 L120.0,288.6 L120.7,289.4 L121.3,290.0 L122.0,290.7 L122.7,291.3 L123.4,292.1 L124.0,292.9 L124.7,293.8 L125.4,294.6 L126.0,295.3 L126.7,295.9 L127.5,296.6 L128.4,297.4 L129.2,298.4 L130.0,299.3 L130.8,300.1 L131.6,300.8 L132.5,301.5 L133.3,302.0 L134.2,302.3 L135.2,302.5 L136.1,303.0 L137.0,303.5 L138.0,303.9 L139.0,304.3 L140.0,304.7 L140.9,305.0 L141.9,305.7 L142.8,306.3 L143.8,306.3 L144.9,306.1 L145.9,306.1 L147.1,306.3 L148.3,306.3 L149.3,306.1 L150.3,305.9 L151.5,305.8 L152.7,305.8 L153.9,305.6 L155.1,305.4 L156.3,305.2 L157.4,305.0 L158.4,304.8 L159.3,304.8 L160.0,304.8 L161.5,304.5 L162.0,304.3 L162.9,303.9 L163.7,303.6 L164.7,303.3 L165.8,302.9 L166.9,302.2 L168.0,301.5 L169.0,301.0 L169.9,300.4 L170.8,299.7 L171.7,298.9 L172.5,298.2 L173.3,297.5 L174.2,297.0 L175.2,296.7 L176.3,296.3 L177.3,295.9 L178.3,295.5 L179.3,294.9 L180.3,294.1 L181.3,293.6 L182.3,293.3 L183.4,292.9 L184.3,292.7 L185.3,292.5 L186.3,292.2 L187.4,292.0 L188.5,291.8 L189.5,291.5 L190.5,291.4 L191.5,291.5 L192.6,291.7 L193.6,291.7 L194.6,291.6 L195.6,291.6 L196.6,292.1 L197.6,292.7 L198.5,293.0 L199.5,293.1 L200.6,293.3 L201.7,293.4 L202.6,293.5 L203.6,293.6 L204.6,293.7 L205.7,293.9 L206.7,294.5 L207.8,295.2 L208.9,295.6 L209.9,295.9 L210.9,296.2 L212.0,296.0 L213.1,296.1 L214.1,296.8 L215.2,297.7 L216.2,298.0 L217.2,298.1 L218.1,298.3 L219.2,298.4 L220.2,298.4 L221.2,298.6 L222.2,298.8 L223.1,299.0 L224.2,299.5 L225.2,300.1 L226.2,300.5 L227.3,300.9 L228.3,301.3 L229.4,301.2 L230.4,301.2 L231.4,301.8 L232.5,302.6 L233.5,303.1 L234.5,303.3 L235.4,303.5 L236.4,304.2 L237.5,305.0 L238.5,305.3 L239.5,305.4 L240.6,305.6 L241.7,306.2 L242.7,306.7 L243.7,306.8 L244.5,306.7 L245.5,306.3 L246.2,305.6 L246.9,304.6 L247.5,303.4 L248.3,302.0 L248.7,301.3 L249.1,300.5 L249.5,299.6 L249.9,298.6 L250.3,297.5 L250.7,296.4 L251.1,295.3 L251.6,294.1 L252.0,293.0 L252.4,291.9 L252.8,290.8 L253.2,289.9 L253.6,288.8 L254.1,287.8 L254.5,286.8 L254.9,285.8 L255.4,284.8 L255.8,283.9 L256.2,283.0 L256.6,282.2 L257.0,281.4 L257.3,280.7 L257.9,279.4 L258.5,278.3 L259.0,277.3 L259.5,276.4 L260.0,275.3 L260.5,274.3 L261.1,273.4 L261.7,272.4 L262.2,271.5 L262.8,270.6 L263.3,269.8 L263.9,268.9 L264.5,268.3 L265.1,267.7 L266.0,266.9 L266.7,266.5 L267.4,266.0 L268.3,265.4 L269.2,264.6 L270.1,263.8 L271.1,263.2 L272.0,262.6 L273.0,262.0 L274.0,261.8 L275.0,261.9 L276.0,261.5 L277.0,260.7 L278.0,260.2 L279.0,260.0 L280.1,260.0 L281.1,259.6 L282.2,259.1 L283.2,258.8 L284.1,258.3 L285.0,257.9 L286.2,258.0 L287.2,258.4 L288.2,259.1 L289.2,260.4 L289.6,261.0 L290.0,261.8 L290.3,262.6 L290.7,263.5 L291.1,264.5 L291.4,265.5 L291.8,266.5 L292.2,267.6 L292.6,268.6 L292.9,269.7 L293.3,270.7 L293.6,271.7 L294.0,272.7 L294.3,273.7 L294.7,274.7 L295.0,275.8 L295.3,276.8 L295.7,277.9 L296.0,278.9 L296.4,280.0 L296.7,281.0 L297.1,282.0 L297.4,282.9 L297.8,284.0 L298.2,285.1 L298.6,286.2 L299.0,287.3 L299.4,288.3 L299.8,289.4 L300.2,290.4 L300.6,291.3 L301.0,292.3 L301.5,293.2 L302.1,294.3 L302.7,295.4 L303.3,296.4 L303.9,297.2 L304.5,298.0 L305.2,298.8 L305.9,299.5 L306.6,300.3 L307.4,301.0 L308.1,301.7 L308.9,302.4 L309.8,303.2 L310.6,303.9 L311.6,304.2 L312.6,304.4 L313.7,304.7 L314.6,305.0 L315.5,305.2 L316.5,305.6 L317.5,306.2 L318.6,306.2 L319.7,306.0 L320.8,305.9 L321.9,305.9 L323.0,305.9 L324.0,305.7 L325.0,305.3 L326.1,305.2 L327.1,305.5 L328.2,305.5 L329.3,305.5 L330.3,305.5 L331.3,305.2 L332.3,304.6 L333.3,304.4 L334.3,304.5 L335.2,304.5 L336.2,304.2 L337.2,303.8 L338.2,303.3 L339.2,302.6 L340.1,301.8 L341.0,301.3 L341.9,301.1 L342.7,300.8 L343.4,300.4 L344.5,299.6 L345.5,298.9 L346.3,298.4 L347.1,297.9 L348.0,297.4 L348.8,296.9 L349.6,296.3 L350.4,295.8 L351.4,295.5 L352.4,295.4 L353.6,295.0 L354.4,294.8 L355.4,294.7 L356.4,294.2 L357.4,293.6 L358.5,293.2 L359.6,293.1 L360.7,292.9 L361.8,293.0 L362.8,293.1 L363.8,293.0 L364.9,292.9 L366.0,292.5 L367.1,291.7 L368.1,291.1 L369.2,290.8 L370.2,290.5 L371.2,290.2 L372.1,289.9 L373.0,289.6 L374.2,289.0 L375.2,288.5 L376.1,288.1 L377.0,287.7 L378.0,287.1 L379.0,286.4 L379.7,285.8 L380.4,285.1 L381.1,284.4 L381.8,283.7 L382.5,282.9 L383.2,282.0 L383.9,281.3 L384.6,280.5 L385.3,279.8 L386.0,279.1 L386.8,278.1 L387.5,277.2 L388.2,276.4 L388.9,275.7 L389.6,274.9 L390.4,274.1 L391.2,273.4 L392.0,272.6 L392.7,272.0 L393.4,271.3 L394.1,270.3 L394.8,269.3 L395.6,268.5 L396.4,267.8 L397.2,267.2 L397.9,266.5 L398.6,265.7 L399.3,265.0 L400.0,264.1 L400.6,263.3 L401.2,262.4 L401.8,261.4 L402.4,260.4 L403.0,259.5 L403.5,258.5 L404.0,257.6 L404.6,256.6 L405.1,255.7 L405.5,254.8 L406.0,253.9 L406.5,253.0 L406.9,252.1 L407.4,251.1 L407.8,250.2 L408.2,249.2 L408.6,248.2 L408.9,247.2 L409.3,246.1 L409.6,245.1 L410.0,244.0 L410.3,243.0 L410.6,242.0 L410.8,241.0 L411.1,240.0 L411.3,239.0 L411.6,237.9 L411.8,236.9 L412.0,235.8 L412.3,234.8 L412.5,233.8 L412.8,232.9 L413.0,231.9 L413.3,230.8 L413.6,229.7 L414.0,228.6 L414.3,227.5 L414.6,226.5 L414.9,225.5 L415.3,224.6 L415.6,223.8 L416.0,223.0 L416.6,221.9 L417.3,221.1 L418.0,220.3 L418.7,219.5 L419.4,218.7 L420.0,218.0 L421.1,217.5 L422.2,217.8 L423.3,218.5 L423.9,219.1 L424.6,219.8 L425.3,220.7 L426.1,221.6 L426.8,222.6 L427.5,223.5 L428.3,224.4 L429.2,225.2 L430.0,225.9 L430.9,226.5 L431.7,226.9 L432.5,226.7 L433.3,226.0 L434.2,224.8 L435.0,223.5 L435.8,222.3 L436.4,221.5 L437.0,220.6 L437.6,219.6 L438.3,218.6 L438.9,217.6 L439.4,216.7 L440.0,215.9 L440.7,214.8 L441.4,213.8 L442.0,212.9 L442.6,212.2 L443.3,211.7 L444.4,211.0 L445.6,210.8 L446.7,210.6 L447.8,210.1 L449.0,209.7 L450.0,209.6 L450.9,210.1 L451.6,211.1 L452.5,212.5 L452.9,213.2 L453.4,214.0 L453.9,214.9 L454.3,215.9 L454.8,216.9 L455.3,218.0 L455.8,219.1 L456.2,220.0 L456.6,221.0 L457.0,222.0 L457.4,223.1 L457.7,224.1 L458.1,225.2 L458.5,226.2 L458.9,227.3 L459.2,228.4 L459.5,229.3 L459.8,230.3 L460.0,231.3 L460.3,232.3 L460.5,233.3 L460.7,234.3 L461.0,235.3 L461.2,236.3 L461.5,237.3 L461.7,238.3 L462.0,239.3 L462.2,240.3 L462.4,241.3 L462.7,242.3 L462.9,243.4 L463.2,244.4 L463.4,245.4 L463.7,246.4 L464.0,247.3 L464.2,248.3 L464.5,249.4 L464.8,250.5 L465.1,251.5 L465.4,252.5 L465.7,253.5 L466.0,254.6 L466.3,255.6 L466.7,256.7 L467.0,257.7 L467.3,258.7 L467.7,259.7 L468.0,260.8 L468.4,261.8 L468.7,262.8 L469.1,263.8 L469.6,264.8 L470.0,265.9 L470.4,266.8 L470.9,267.8 L471.4,268.8 L471.9,269.8 L472.4,270.8 L472.9,271.8 L473.4,272.7 L474.0,273.6 L474.5,274.3 L475.0,274.9 L475.8,275.9 L476.6,276.6 L477.4,277.1 L478.2,277.7 L479.1,278.3 L480.0,279.0 L480.9,279.5 L481.7,280.3 L482.7,281.0 L483.6,281.4 L484.6,281.5 L485.6,281.8 L486.7,282.3 L487.6,282.7 L488.6,283.1 L489.6,283.6 L490.6,284.0 L491.7,284.4 L492.8,284.8 L493.9,285.3 L495.0,285.7 L495.9,286.1 L497.0,286.9 L498.0,287.5 L499.1,287.6 L500.1,287.6 L501.2,288.0 L502.2,288.3 L503.2,288.7 L504.2,289.6 L505.0,290.4 L506.2,291.0 L507.2,291.3 L508.1,291.7 L508.9,292.0 L509.9,292.5 L511.0,293.1 L511.8,293.2 L512.6,293.5 L513.4,294.0 L514.3,294.8 L515.2,295.6 L516.2,296.2 L517.1,296.8 L518.1,297.4 L519.0,297.7 L520.0,297.8 L521.0,298.2 L521.9,299.0 L522.9,299.7 L523.9,300.2 L524.9,300.7 L526.0,301.2 L527.0,301.5 L528.0,301.8 L529.0,302.2 L530.0,302.4 L531.0,302.7 L532.0,302.9 L533.0,303.1 L534.0,303.4 L535.0,303.7 L536.0,304.0 L537.0,304.2 L538.0,304.3 L539.0,304.4 L540.0,304.5 L541.0,304.7 L542.0,305.2 L543.0,305.5 L544.0,305.4 L545.0,305.3 L546.0,305.4 L547.0,305.7 L548.0,306.0 L549.0,305.6 L550.0,305.1 L550.6,305.0 L550.6,305.0 L550.3,305.0 L549.8,305.0 L549.6,305.2 L549.7,304.9 L550.6,304.6 L552.4,305.4 L555.5,305.3 L560.0,305.5 L560.6,305.5 L561.2,305.5 L561.8,305.5 L562.4,305.5 L563.1,305.5 L563.8,305.4 L564.5,305.2 L565.3,305.1 L566.1,305.0 L566.9,304.7 L567.7,304.5 L568.5,304.5 L569.4,304.9 L570.3,305.3 L571.2,305.2 L572.1,304.8 L573.0,304.6 L574.0,304.7 L575.0,304.8 L576.0,304.8 L577.0,305.1 L578.0,305.2 L579.1,305.2 L580.1,305.1 L581.2,305.0 L582.3,305.0 L583.4,305.0 L584.5,305.4 L585.6,305.6 L586.8,305.4 L587.9,305.2 L589.1,305.1 L590.3,304.9 L591.4,304.9 L592.6,304.8 L593.8,305.0 L595.0,305.5 L596.2,305.4 L597.4,305.1 L598.7,305.1 L599.9,305.4 L601.1,305.4 L602.3,305.0 L603.6,304.9 L604.8,304.8 L606.0,304.8 L607.3,305.1 L608.5,305.2 L609.7,305.5 L611.0,305.5 L612.2,305.0 L613.4,304.9 L614.7,305.4 L615.9,305.6 L617.1,305.7 L618.3,305.7 L619.6,305.6 L620.8,305.6 L622.0,305.6 L623.2,305.6 L624.4,305.1 L625.5,304.7 L626.7,305.0 L627.9,305.4 L629.0,305.5 L630.2,305.7 L631.3,305.5 L632.4,304.9 L633.5,304.8 L634.6,304.9 L635.7,305.0 L636.7,305.0 L637.8,305.0 L638.8,305.1 L639.8,305.3 L640.8,305.3 L641.8,305.3 L642.8,305.2 L643.7,305.3 L644.7,305.3 L645.6,305.3 L646.5,305.4 L647.3,305.6 L648.2,305.7 L649.0,305.4 L649.8,304.9 L650.6,304.8 L651.4,304.8 L652.1,304.8 L652.8,304.8 L653.5,304.9 L654.1,304.9 L654.8,304.9 L655.4,304.9 L655.9,304.9 L656.5,304.9 L657.0,305.0" stroke="#ff00ff" stroke-width="1.3"/>
<path d="M43.0,265.2 L43.6,265.1 L44.3,265.0 L45.1,264.9 L46.0,264.9 L47.0,265.1 L48.1,265.2 L49.2,265.0 L50.3,264.8 L51.5,264.7 L52.7,264.6 L53.8,264.6 L54.9,264.8 L56.0,264.9 L57.0,265.2 L58.0,265.4 L59.1,265.3 L60.2,265.2 L61.2,265.1 L62.3,265.1 L63.4,265.0 L64.4,264.6 L65.4,264.3 L66.4,264.4 L67.4,264.5 L68.3,264.5 L69.2,264.4 L70.0,264.2 L71.3,264.0 L72.5,263.8 L73.6,263.6 L74.7,263.4 L75.7,263.3 L76.5,263.1 L77.3,263.1 L78.0,263.0 L79.2,263.0 L80.0,262.9 L80.8,262.6 L81.8,262.1 L82.9,261.6 L84.0,261.0 L85.0,260.3 L85.8,259.7 L86.7,259.1 L87.5,258.5 L88.3,257.7 L89.2,256.7 L90.0,255.6 L90.6,254.9 L91.1,254.2 L91.7,253.5 L92.2,252.7 L92.8,251.9 L93.3,251.0 L93.9,250.1 L94.4,249.3 L95.0,248.3 L95.5,247.5 L95.9,246.6 L96.4,245.7 L96.9,244.8 L97.3,243.8 L97.8,242.8 L98.2,241.9 L98.7,241.0 L99.1,240.1 L99.6,239.2 L100.0,238.5 L100.6,237.3 L101.3,236.3 L101.9,235.3 L102.4,234.3 L103.0,233.5 L103.6,232.6 L104.2,231.7 L105.0,230.5 L105.8,229.5 L106.7,228.9 L107.5,228.6 L108.3,228.4 L109.3,228.6 L110.4,229.2 L111.4,230.0 L112.5,230.8 L113.2,231.4 L113.9,232.1 L114.6,232.7 L115.2,233.5 L116.0,234.5 L116.7,235.7 L117.2,236.5 L117.6,237.3 L118.1,238.2 L118.6,239.1 L119.2,240.0 L119.7,241.0 L120.2,241.9 L120.7,242.9 L121.2,243.9 L121.7,245.0 L122.2,246.0 L122.7,247.1 L123.2,248.0 L123.7,249.0 L124.3,250.0 L124.8,250.9 L125.3,251.8 L125.8,252.7 L126.2,253.5 L126.7,254.3 L127.3,255.4 L127.9,256.4 L128.5,257.4 L129.1,258.3 L129.6,259.1 L130.2,259.9 L130.8,260.7 L131.6,261.8 L132.4,262.7 L133.1,263.5 L134.0,264.0 L135.0,264.3 L136.0,264.7 L137.0,265.3 L138.1,265.8 L139.3,266.0 L140.5,266.2 L141.7,266.0 L142.6,265.8 L143.6,265.6 L144.6,265.4 L145.6,265.2 L146.7,265.0 L147.8,264.9 L148.9,264.5 L150.0,264.1 L151.0,263.8 L152.0,263.4 L153.0,263.0 L154.1,262.8 L155.2,262.5 L156.3,262.3 L157.3,262.4 L158.3,262.2 L159.2,261.5 L160.0,260.9 L161.3,260.4 L162.3,260.1 L163.2,259.9 L164.1,259.8 L165.0,259.7 L165.9,259.1 L166.7,258.3 L167.6,257.4 L168.5,256.6 L169.4,255.9 L170.3,255.2 L171.2,254.5 L172.1,253.6 L172.9,252.8 L173.8,252.0 L174.7,251.3 L175.5,250.6 L176.7,250.4 L177.8,250.5 L178.9,249.9 L180.0,248.8 L180.7,248.1 L181.4,247.5 L182.2,246.8 L182.9,246.0 L183.6,245.2 L184.3,244.5 L185.4,243.7 L186.4,243.1 L187.5,243.0 L188.7,242.7 L189.6,242.4 L190.6,242.3 L191.7,242.5 L192.8,242.8 L193.8,243.1 L194.8,243.6 L195.9,244.0 L196.9,244.1 L197.8,244.2 L198.9,244.7 L200.0,245.2 L200.9,245.6 L202.0,246.1 L203.1,246.5 L204.1,246.4 L205.2,246.2 L206.2,246.4 L207.0,246.5 L208.4,246.5 L209.4,246.4 L210.6,246.7 L211.4,247.3 L212.1,248.1 L213.0,249.0 L213.9,249.7 L214.8,250.3 L215.8,250.9 L216.7,251.2 L217.8,251.5 L218.9,252.0 L220.0,252.4 L221.0,252.8 L222.0,252.9 L222.9,253.0 L224.2,253.0 L225.2,252.7 L226.2,252.0 L227.2,251.3 L228.3,251.0 L229.4,251.4 L230.6,251.7 L231.6,252.0 L232.5,252.5 L233.3,253.0 L234.2,253.7 L235.1,254.7 L235.7,255.3 L236.3,256.1 L236.9,256.9 L237.6,257.8 L238.2,258.8 L238.9,259.8 L239.5,260.7 L240.2,261.7 L241.0,262.6 L241.7,263.2 L242.5,263.7 L243.2,264.3 L243.9,264.8 L245.0,265.3 L246.0,265.4 L247.1,265.5 L248.0,265.2 L248.7,264.4 L249.2,263.5 L249.8,262.5 L250.4,261.3 L251.0,260.1 L251.4,259.3 L251.9,258.3 L252.4,257.4 L252.9,256.4 L253.4,255.3 L253.9,254.3 L254.4,253.3 L255.0,252.2 L255.4,251.4 L255.8,250.5 L256.2,249.7 L256.6,248.8 L257.0,247.8 L257.4,246.9 L257.9,245.9 L258.3,245.0 L258.7,244.0 L259.2,243.1 L259.6,242.1 L260.0,241.1 L260.4,240.2 L260.8,239.2 L261.2,238.2 L261.5,237.2 L261.9,236.2 L262.3,235.2 L262.7,234.1 L263.1,233.1 L263.5,232.1 L263.8,231.0 L264.2,230.0 L264.6,229.0 L265.0,227.9 L265.4,226.9 L265.7,226.0 L266.1,225.0 L266.4,224.0 L266.8,223.1 L267.1,222.1 L267.5,221.1 L267.9,220.1 L268.2,219.1 L268.6,218.1 L268.9,217.0 L269.3,216.0 L269.6,215.0 L270.0,213.9 L270.3,212.9 L270.7,211.9 L271.0,210.9 L271.4,209.9 L271.7,208.9 L272.0,207.9 L272.4,206.9 L272.7,205.8 L273.1,204.8 L273.4,203.8 L273.7,202.8 L274.1,201.8 L274.4,200.9 L274.7,200.0 L275.0,199.1 L275.4,198.0 L275.7,196.9 L276.1,195.8 L276.4,194.7 L276.8,193.6 L277.1,192.6 L277.5,191.5 L277.8,190.6 L278.1,189.6 L278.4,188.7 L278.7,187.8 L279.0,186.9 L279.4,185.7 L279.8,184.5 L280.2,183.4 L280.5,182.3 L280.9,181.4 L281.2,180.4 L281.6,179.6 L282.0,178.8 L282.7,177.6 L283.4,176.6 L284.1,175.8 L284.9,175.3 L285.6,175.0 L286.5,175.3 L287.3,176.1 L288.2,177.0 L289.0,178.1 L289.4,178.7 L289.8,179.5 L290.2,180.3 L290.5,181.2 L290.9,182.3 L291.3,183.4 L291.6,184.6 L292.0,186.0 L292.2,186.8 L292.4,187.6 L292.6,188.5 L292.9,189.4 L293.1,190.4 L293.3,191.3 L293.5,192.3 L293.7,193.4 L293.9,194.4 L294.1,195.5 L294.4,196.6 L294.6,197.7 L294.8,198.8 L295.0,200.0 L295.2,200.9 L295.3,201.8 L295.5,202.8 L295.7,203.7 L295.8,204.7 L296.0,205.8 L296.2,206.8 L296.3,207.8 L296.5,208.9 L296.7,209.9 L296.8,211.0 L297.0,212.0 L297.2,213.1 L297.3,214.1 L297.5,215.1 L297.7,216.1 L297.8,217.1 L298.0,218.0 L298.2,219.1 L298.4,220.1 L298.6,221.2 L298.8,222.2 L298.9,223.2 L299.1,224.3 L299.3,225.3 L299.5,226.3 L299.7,227.3 L299.9,228.2 L300.1,229.2 L300.2,230.2 L300.4,231.1 L300.6,232.1 L300.8,233.1 L301.0,234.0 L301.2,235.1 L301.4,236.1 L301.6,237.2 L301.9,238.2 L302.1,239.3 L302.3,240.3 L302.5,241.3 L302.7,242.4 L302.9,243.3 L303.1,244.3 L303.4,245.3 L303.6,246.2 L303.8,247.1 L304.0,247.9 L304.3,249.1 L304.6,250.3 L304.9,251.4 L305.2,252.5 L305.4,253.5 L305.7,254.5 L306.0,255.4 L306.3,256.3 L306.7,257.1 L307.0,257.8 L307.6,258.9 L308.1,259.9 L308.8,260.7 L309.4,261.4 L310.1,262.1 L311.0,262.7 L311.8,263.5 L312.8,264.2 L313.7,264.5 L314.8,264.5 L315.8,264.7 L316.9,264.8 L318.0,264.9 L319.0,265.0 L319.9,265.3 L320.9,265.2 L321.9,264.9 L323.0,264.5 L324.0,264.6 L325.0,264.8 L326.0,264.5 L327.0,263.6 L328.0,263.0 L329.1,262.8 L330.1,262.7 L331.1,262.3 L332.1,262.1 L333.1,261.7 L334.0,261.2 L334.9,260.5 L335.8,260.0 L336.6,259.7 L337.4,259.4 L338.2,258.9 L339.1,258.0 L340.0,257.0 L340.7,256.4 L341.4,255.7 L342.2,254.9 L342.9,254.1 L343.7,253.3 L344.5,252.6 L345.2,251.9 L346.0,251.1 L346.8,250.2 L347.5,249.3 L348.3,248.5 L349.1,247.8 L349.8,247.1 L350.6,246.4 L351.3,245.5 L352.1,244.7 L352.9,243.9 L353.7,243.3 L354.5,242.9 L355.4,242.4 L356.2,241.9 L357.1,241.3 L358.1,240.7 L359.0,240.1 L359.9,239.4 L360.9,238.9 L361.8,238.2 L362.7,237.5 L363.7,237.1 L364.8,236.8 L365.8,236.4 L366.8,236.0 L367.8,235.6 L368.9,235.2 L369.8,234.7 L370.8,234.2 L371.6,233.7 L372.5,233.1 L373.3,232.6 L374.1,232.2 L374.9,231.8 L375.7,231.2 L376.4,230.3 L377.1,229.3 L377.8,228.4 L378.4,227.7 L379.0,226.9 L379.5,226.1 L380.0,225.2 L380.5,224.4 L381.0,223.5 L381.5,222.6 L382.0,221.7 L382.5,220.6 L382.9,219.8 L383.2,218.9 L383.6,217.9 L383.9,217.0 L384.3,215.9 L384.7,214.9 L385.0,213.8 L385.4,212.8 L385.8,211.7 L386.1,210.7 L386.5,209.7 L386.8,208.7 L387.2,207.8 L387.6,206.8 L388.0,205.9 L388.3,204.9 L388.7,203.9 L389.1,202.9 L389.4,202.0 L389.8,201.0 L390.2,200.0 L390.6,199.0 L391.0,198.1 L391.4,197.1 L391.8,196.1 L392.2,195.2 L392.5,194.3 L392.9,193.4 L393.3,192.4 L393.8,191.5 L394.2,190.4 L394.6,189.4 L395.0,188.4 L395.5,187.4 L395.9,186.5 L396.3,185.5 L396.7,184.6 L397.0,183.7 L397.4,182.9 L397.7,182.1 L398.2,180.9 L398.6,179.9 L399.0,178.9 L399.4,178.0 L399.8,177.1 L400.1,176.2 L400.5,175.2 L400.8,174.1 L401.2,172.7 L401.4,171.9 L401.6,171.1 L401.9,170.3 L402.1,169.4 L402.3,168.5 L402.5,167.6 L402.7,166.7 L403.0,165.7 L403.2,164.7 L403.4,163.6 L403.6,162.5 L403.8,161.4 L404.1,160.2 L404.3,159.0 L404.5,157.6 L404.7,156.3 L404.8,155.5 L404.9,154.6 L405.1,153.7 L405.2,152.7 L405.3,151.7 L405.4,150.7 L405.6,149.7 L405.7,148.6 L405.8,147.5 L405.9,146.4 L406.1,145.3 L406.2,144.1 L406.3,143.0 L406.4,141.9 L406.6,140.7 L406.7,139.6 L406.8,138.5 L406.9,137.4 L407.0,136.3 L407.2,135.2 L407.3,134.2 L407.4,133.2 L407.5,132.2 L407.6,131.3 L407.7,130.4 L407.8,129.5 L407.9,128.7 L408.0,128.0 L408.2,126.4 L408.4,125.1 L408.6,124.0 L408.7,123.0 L408.9,122.1 L409.0,121.4 L409.2,120.6 L409.3,119.8 L409.5,119.1 L409.6,118.2 L409.8,117.2 L410.0,116.0 L410.1,115.2 L410.3,114.3 L410.5,113.3 L410.6,112.4 L410.8,111.4 L411.0,110.3 L411.1,109.3 L411.3,108.2 L411.5,107.2 L411.7,106.1 L411.9,105.0 L412.0,104.0 L412.2,102.9 L412.4,101.9 L412.5,100.9 L412.7,99.9 L412.9,98.9 L413.0,98.0 L413.2,96.9 L413.3,95.8 L413.5,94.8 L413.6,93.7 L413.8,92.7 L413.9,91.7 L414.1,90.8 L414.2,89.8 L414.3,88.9 L414.5,87.9 L414.6,86.9 L414.7,86.0 L414.9,85.0 L415.0,84.0 L415.1,83.0 L415.3,82.0 L415.4,80.9 L415.6,79.9 L415.7,78.9 L415.9,77.8 L416.0,76.8 L416.1,75.7 L416.3,74.7 L416.4,73.7 L416.6,72.7 L416.7,71.8 L416.9,70.9 L417.0,70.0 L417.2,68.8 L417.4,67.6 L417.5,66.5 L417.7,65.4 L417.9,64.3 L418.1,63.3 L418.3,62.4 L418.5,61.5 L418.7,60.7 L419.0,60.0 L419.6,58.8 L420.4,57.9 L421.2,57.3 L421.9,56.9 L422.6,56.7 L423.5,56.9 L424.3,57.7 L425.0,59.1 L425.3,59.8 L425.6,60.6 L425.8,61.6 L426.1,62.6 L426.4,63.7 L426.7,64.8 L427.0,66.0 L427.3,66.9 L427.5,67.8 L427.8,68.8 L428.1,69.7 L428.4,70.7 L428.7,71.8 L429.0,72.8 L429.3,73.9 L429.7,74.9 L430.0,76.0 L430.3,76.9 L430.6,77.9 L430.9,78.9 L431.3,80.0 L431.6,81.0 L431.9,82.1 L432.3,83.1 L432.6,84.2 L433.0,85.2 L433.3,86.2 L433.7,87.1 L434.0,88.0 L434.4,89.2 L434.9,90.3 L435.3,91.4 L435.8,92.4 L436.2,93.4 L436.7,94.3 L437.1,95.2 L437.6,96.1 L438.0,96.9 L438.6,97.9 L439.2,99.0 L439.8,100.0 L440.4,100.9 L440.9,101.7 L441.5,102.5 L442.0,103.3 L442.7,104.3 L443.3,105.1 L443.8,105.8 L444.4,106.7 L445.0,107.9 L445.3,108.7 L445.6,109.6 L445.9,110.6 L446.2,111.6 L446.5,112.7 L446.8,113.8 L447.1,114.9 L447.4,116.0 L447.7,117.1 L448.0,118.1 L448.3,119.1 L448.5,120.0 L448.8,120.8 L449.0,121.7 L449.3,122.5 L449.5,123.5 L449.8,124.4 L450.1,125.5 L450.4,126.7 L450.7,128.1 L450.9,128.8 L451.1,129.7 L451.3,130.5 L451.5,131.4 L451.7,132.4 L451.9,133.4 L452.1,134.4 L452.4,135.4 L452.6,136.4 L452.8,137.5 L453.0,138.5 L453.3,139.6 L453.5,140.7 L453.7,141.7 L453.9,142.7 L454.1,143.8 L454.3,144.8 L454.5,145.7 L454.7,146.7 L454.9,147.8 L455.1,148.9 L455.3,149.9 L455.5,151.0 L455.6,152.1 L455.8,153.2 L455.9,154.2 L456.1,155.3 L456.3,156.3 L456.4,157.3 L456.5,158.4 L456.7,159.4 L456.8,160.4 L457.0,161.4 L457.1,162.3 L457.3,163.3 L457.5,164.4 L457.7,165.5 L457.8,166.5 L458.0,167.6 L458.2,168.6 L458.3,169.6 L458.5,170.6 L458.7,171.6 L458.9,172.6 L459.0,173.6 L459.2,174.5 L459.4,175.4 L459.5,176.4 L459.7,177.3 L459.9,178.4 L460.1,179.5 L460.3,180.6 L460.5,181.7 L460.7,182.7 L460.9,183.8 L461.1,184.8 L461.3,185.9 L461.5,186.9 L461.7,188.0 L462.0,189.0 L462.2,190.0 L462.5,191.1 L462.8,192.1 L463.0,193.1 L463.3,194.1 L463.6,195.2 L463.9,196.2 L464.2,197.1 L464.5,198.1 L464.8,199.0 L465.2,199.9 L465.5,200.8 L466.0,201.8 L466.4,202.8 L466.9,203.6 L467.4,204.4 L468.0,205.2 L468.5,206.1 L469.1,206.9 L469.6,207.7 L470.2,208.6 L470.8,209.4 L471.4,210.3 L472.0,211.2 L472.6,212.1 L473.3,212.9 L473.9,213.7 L474.6,214.4 L475.3,215.1 L476.0,215.9 L476.7,216.6 L477.5,217.4 L478.2,218.1 L479.0,218.8 L479.8,219.5 L480.6,220.2 L481.4,220.6 L482.2,220.9 L483.0,221.4 L483.8,222.1 L484.6,222.6 L485.3,223.2 L486.1,224.0 L486.9,225.0 L487.7,226.0 L488.4,226.6 L489.2,226.9 L490.0,227.1 L490.9,227.7 L491.8,228.6 L492.6,229.6 L493.5,230.1 L494.4,230.3 L495.2,230.5 L496.1,231.2 L497.0,232.3 L497.8,233.1 L498.6,233.8 L499.3,234.5 L500.1,235.3 L500.9,236.0 L501.7,236.9 L502.4,237.7 L503.2,238.6 L504.0,239.4 L504.6,240.1 L505.3,240.8 L505.9,241.7 L506.5,242.6 L507.2,243.6 L507.8,244.5 L508.5,245.4 L509.1,246.1 L509.7,246.8 L510.4,247.5 L511.0,248.3 L511.8,249.3 L512.6,250.3 L513.3,251.2 L514.1,251.9 L514.9,252.5 L515.7,253.2 L516.4,254.1 L517.2,255.0 L518.0,255.8 L518.8,256.5 L519.5,257.2 L520.2,257.8 L521.0,258.5 L521.7,259.1 L522.5,259.6 L523.3,260.2 L524.1,260.8 L525.0,261.3 L525.9,261.8 L526.8,262.0 L527.8,262.2 L528.7,262.7 L529.7,263.0 L530.8,263.4 L531.9,264.1 L533.1,264.7 L534.3,264.8 L535.2,264.9 L536.2,265.1 L537.2,265.5 L538.2,265.6 L539.3,265.5 L540.4,265.4 L541.5,265.2 L542.7,264.9 L543.8,264.9 L544.9,265.1 L545.9,265.2 L547.0,265.4 L548.0,265.6 L548.8,265.6 L549.1,265.5 L549.1,265.6 L549.0,265.6 L548.8,265.7 L548.8,265.7 L549.1,265.6 L549.8,265.5 L551.1,265.4 L553.1,264.8 L556.0,265.8 L560.0,265.0 L560.6,264.9 L561.2,265.0 L561.8,265.2 L562.5,265.4 L563.2,265.4 L563.9,265.4 L564.6,265.3 L565.4,265.2 L566.1,265.3 L566.9,265.5 L567.8,265.7 L568.6,265.6 L569.5,265.3 L570.4,265.1 L571.3,265.1 L572.2,265.0 L573.2,265.0 L574.1,265.1 L575.1,265.3 L576.1,265.4 L577.1,265.7 L578.2,265.8 L579.2,265.4 L580.3,264.8 L581.4,264.8 L582.4,264.8 L583.6,264.9 L584.7,265.2 L585.8,265.4 L586.9,265.6 L588.1,265.7 L589.2,265.5 L590.4,265.2 L591.6,265.2 L592.8,265.1 L594.0,265.3 L595.2,265.6 L596.4,265.6 L597.6,265.5 L598.8,265.3 L600.0,264.7 L601.2,264.8 L602.5,265.5 L603.7,265.4 L604.9,264.9 L606.2,264.8 L607.4,264.9 L608.6,265.0 L609.9,265.4 L611.1,265.4 L612.3,265.1 L613.6,265.0 L614.8,265.3 L616.0,265.3 L617.2,264.8 L618.4,264.7 L619.7,265.3 L620.9,265.4 L622.1,264.9 L623.3,264.6 L624.4,264.6 L625.6,264.6 L626.8,264.8 L627.9,265.0 L629.1,264.9 L630.2,264.8 L631.3,264.8 L632.5,265.0 L633.6,265.1 L634.7,265.3 L635.7,265.4 L636.8,265.3 L637.8,265.2 L638.9,264.9 L639.9,264.4 L640.9,264.3 L641.9,264.5 L642.8,264.7 L643.8,264.7 L644.7,264.9 L645.6,264.9 L646.5,264.9 L647.4,264.9 L648.2,264.8 L649.0,264.9 L649.8,265.1 L650.6,265.1 L651.4,265.0 L652.1,264.9 L652.8,264.8 L653.5,264.8 L654.1,264.6 L654.8,264.4 L655.4,264.3 L655.9,264.3 L656.5,264.4 L657.0,264.4" stroke="#8000ff" stroke-width="1.3"/>
</g>
<rect x="43" y="1.6" width="640.2" height="518.4" fill="none" stroke="#000" stroke-width="2"/>
<path d="M43.00,520 V529.60 M86.86,520 V524.70 M130.73,520 V529.60 M174.59,520 V524.70 M218.46,520 V529.60 M262.32,520 V524.70 M306.19,520 V529.60 M350.05,520 V524.70 M393.91,520 V529.60 M437.78,520 V524.70 M481.64,520 V529.60 M525.51,520 V524.70 M569.37,520 V529.60 M613.24,520 V524.70 M657.10,520 V529.60" stroke="#000" stroke-width="2" fill="none"/>
<g transform="translate(26.12,551.81) scale(0.2010,0.2030)"><text x="0" y="0" font-size="100" fill="#000" stroke="#000" stroke-width="1.49">200</text></g>
<g transform="translate(114.15,551.81) scale(0.2010,0.2030)"><text x="0" y="0" font-size="100" fill="#000" stroke="#000" stroke-width="1.49">400</text></g>
<g transform="translate(201.57,551.81) scale(0.2010,0.2030)"><text x="0" y="0" font-size="100" fill="#000" stroke="#000" stroke-width="1.49">600</text></g>
<g transform="translate(289.40,551.81) scale(0.2010,0.2030)"><text x="0" y="0" font-size="100" fill="#000" stroke="#000" stroke-width="1.49">800</text></g>
<g transform="translate(371.50,551.81) scale(0.2010,0.2030)"><text x="0" y="0" font-size="100" fill="#000" stroke="#000" stroke-width="1.49"><tspan x="55.615">0</tspan><tspan x="111.230">0</tspan><tspan x="166.845">0</tspan></text><path d="M37.26,0.00 L28.47,0.00 L28.47,-53.83 L25.29,-50.91 L21.20,-47.95 L17.19,-45.43 L13.20,-43.53 L10.89,-42.70 L10.89,-50.87 L16.11,-53.21 L21.00,-56.70 L26.46,-61.33 L29.74,-65.42 L31.05,-68.79 L37.26,-68.79 Z" fill="#000" stroke="#000" stroke-width="1.49" stroke-linejoin="miter"/></g>
<g transform="translate(459.23,551.81) scale(0.2010,0.2030)"><text x="0" y="0" font-size="100" fill="#000" stroke="#000" stroke-width="1.49"><tspan x="55.615">2</tspan><tspan x="111.230">0</tspan><tspan x="166.845">0</tspan></text><path d="M37.26,0.00 L28.47,0.00 L28.47,-53.83 L25.29,-50.91 L21.20,-47.95 L17.19,-45.43 L13.20,-43.53 L10.89,-42.70 L10.89,-50.87 L16.11,-53.21 L21.00,-56.70 L26.46,-61.33 L29.74,-65.42 L31.05,-68.79 L37.26,-68.79 Z" fill="#000" stroke="#000" stroke-width="1.49" stroke-linejoin="miter"/></g>
<g transform="translate(546.96,551.81) scale(0.2010,0.2030)"><text x="0" y="0" font-size="100" fill="#000" stroke="#000" stroke-width="1.49"><tspan x="55.615">4</tspan><tspan x="111.230">0</tspan><tspan x="166.845">0</tspan></text><path d="M37.26,0.00 L28.47,0.00 L28.47,-53.83 L25.29,-50.91 L21.20,-47.95 L17.19,-45.43 L13.20,-43.53 L10.89,-42.70 L10.89,-50.87 L16.11,-53.21 L21.00,-56.70 L26.46,-61.33 L29.74,-65.42 L31.05,-68.79 L37.26,-68.79 Z" fill="#000" stroke="#000" stroke-width="1.49" stroke-linejoin="miter"/></g>
<g transform="translate(634.69,551.81) scale(0.2010,0.2030)"><text x="0" y="0" font-size="100" fill="#000" stroke="#000" stroke-width="1.49"><tspan x="55.615">6</tspan><tspan x="111.230">0</tspan><tspan x="166.845">0</tspan></text><path d="M37.26,0.00 L28.47,0.00 L28.47,-53.83 L25.29,-50.91 L21.20,-47.95 L17.19,-45.43 L13.20,-43.53 L10.89,-42.70 L10.89,-50.87 L16.11,-53.21 L21.00,-56.70 L26.46,-61.33 L29.74,-65.42 L31.05,-68.79 L37.26,-68.79 Z" fill="#000" stroke="#000" stroke-width="1.49" stroke-linejoin="miter"/></g>
<g transform="translate(114.11,225.61) rotate(-90) scale(0.1770,0.1830)"><text x="0" y="0" font-size="100" fill="#000" stroke="#000" stroke-width="1.67">352</text></g>
<g transform="translate(194.66,239.51) rotate(-90) scale(0.1770,0.1830)"><text x="0" y="0" font-size="100" fill="#000" stroke="#000" stroke-width="1.67"><tspan x="0.000">5</tspan><tspan x="55.615">3</tspan></text><path d="M148.49,0.00 L139.70,0.00 L139.70,-53.83 L136.52,-50.91 L132.43,-47.95 L128.42,-45.43 L124.43,-43.53 L122.12,-42.70 L122.12,-50.87 L127.34,-53.21 L132.23,-56.70 L137.69,-61.33 L140.97,-65.42 L142.28,-68.79 L148.49,-68.79 Z" fill="#000" stroke="#000" stroke-width="1.67" stroke-linejoin="miter"/></g>
<g transform="translate(237.81,247.98) rotate(-90) scale(0.1770,0.1830)"><text x="0" y="0" font-size="100" fill="#000" stroke="#000" stroke-width="1.67">624</text></g>
<g transform="translate(291.41,173.38) rotate(-90) scale(0.1770,0.1830)"><text x="0" y="0" font-size="100" fill="#000" stroke="#000" stroke-width="1.67">752</text></g>
<g transform="translate(358.31,239.28) rotate(-90) scale(0.1770,0.1830)"><text x="0" y="0" font-size="100" fill="#000" stroke="#000" stroke-width="1.67"><tspan x="0.000">9</tspan><tspan x="111.230">0</tspan></text><path d="M92.88,0.00 L84.09,0.00 L84.09,-53.83 L80.91,-50.91 L76.81,-47.95 L72.81,-45.43 L68.81,-43.53 L66.50,-42.70 L66.50,-50.87 L71.72,-53.21 L76.62,-56.70 L82.08,-61.33 L85.36,-65.42 L86.67,-68.79 L92.88,-68.79 Z" fill="#000" stroke="#000" stroke-width="1.67" stroke-linejoin="miter"/></g>
<g transform="translate(427.66,53.55) rotate(-90) scale(0.1770,0.1830)"><text x="0" y="0" font-size="100" fill="#000" stroke="#000" stroke-width="1.67"><tspan x="55.615">0</tspan><tspan x="111.230">6</tspan><tspan x="166.845">5</tspan></text><path d="M37.26,0.00 L28.47,0.00 L28.47,-53.83 L25.29,-50.91 L21.20,-47.95 L17.19,-45.43 L13.20,-43.53 L10.89,-42.70 L10.89,-50.87 L16.11,-53.21 L21.00,-56.70 L26.46,-61.33 L29.74,-65.42 L31.05,-68.79 L37.26,-68.79 Z" fill="#000" stroke="#000" stroke-width="1.67" stroke-linejoin="miter"/></g>
<g transform="translate(453.96,101.95) rotate(-90) scale(0.1770,0.1830)"><text x="0" y="0" font-size="100" fill="#000" stroke="#000" stroke-width="1.67"><tspan x="111.230">2</tspan><tspan x="166.845">0</tspan></text><path d="M37.26,0.00 L28.47,0.00 L28.47,-53.83 L25.29,-50.91 L21.20,-47.95 L17.19,-45.43 L13.20,-43.53 L10.89,-42.70 L10.89,-50.87 L16.11,-53.21 L21.00,-56.70 L26.46,-61.33 L29.74,-65.42 L31.05,-68.79 L37.26,-68.79 Z M92.88,0.00 L84.09,0.00 L84.09,-53.83 L80.91,-50.91 L76.81,-47.95 L72.81,-45.43 L68.81,-43.53 L66.50,-42.70 L66.50,-50.87 L71.72,-53.21 L76.62,-56.70 L82.08,-61.33 L85.36,-65.42 L86.67,-68.79 L92.88,-68.79 Z" fill="#000" stroke="#000" stroke-width="1.67" stroke-linejoin="miter"/></g>
<g transform="translate(423.41,313.55) rotate(-90) scale(0.1770,0.1830)"><text x="0" y="0" font-size="100" fill="#000" stroke="#000" stroke-width="1.67"><tspan x="55.615">0</tspan><tspan x="111.230">5</tspan><tspan x="166.845">5</tspan></text><path d="M37.26,0.00 L28.47,0.00 L28.47,-53.83 L25.29,-50.91 L21.20,-47.95 L17.19,-45.43 L13.20,-43.53 L10.89,-42.70 L10.89,-50.87 L16.11,-53.21 L21.00,-56.70 L26.46,-61.33 L29.74,-65.42 L31.05,-68.79 L37.26,-68.79 Z" fill="#000" stroke="#000" stroke-width="1.67" stroke-linejoin="miter"/></g>
<g transform="translate(463.46,312.55) rotate(-90) scale(0.1770,0.1830)"><text x="0" y="0" font-size="100" fill="#000" stroke="#000" stroke-width="1.67"><tspan x="111.230">6</tspan><tspan x="166.845">3</tspan></text><path d="M37.26,0.00 L28.47,0.00 L28.47,-53.83 L25.29,-50.91 L21.20,-47.95 L17.19,-45.43 L13.20,-43.53 L10.89,-42.70 L10.89,-50.87 L16.11,-53.21 L21.00,-56.70 L26.46,-61.33 L29.74,-65.42 L31.05,-68.79 L37.26,-68.79 Z M92.88,0.00 L84.09,0.00 L84.09,-53.83 L80.91,-50.91 L76.81,-47.95 L72.81,-45.43 L68.81,-43.53 L66.50,-42.70 L66.50,-50.87 L71.72,-53.21 L76.62,-56.70 L82.08,-61.33 L85.36,-65.42 L86.67,-68.79 L92.88,-68.79 Z" fill="#000" stroke="#000" stroke-width="1.67" stroke-linejoin="miter"/></g>
<g transform="translate(268.16,369.19) rotate(-90) scale(0.1770,0.1830)"><text x="0" y="0" font-size="100" fill="#000" stroke="#000" stroke-width="1.67"><tspan x="0.000">7</tspan><tspan x="55.615">0</tspan></text><path d="M148.49,0.00 L139.70,0.00 L139.70,-53.83 L136.52,-50.91 L132.43,-47.95 L128.42,-45.43 L124.43,-43.53 L122.12,-42.70 L122.12,-50.87 L127.34,-53.21 L132.23,-56.70 L137.69,-61.33 L140.97,-65.42 L142.28,-68.79 L148.49,-68.79 Z" fill="#000" stroke="#000" stroke-width="1.67" stroke-linejoin="miter"/></g>
<g transform="translate(362.26,496.28) rotate(-90) scale(0.1770,0.1830)"><text x="0" y="0" font-size="100" fill="#000" stroke="#000" stroke-width="1.67"><tspan x="0.000">9</tspan><tspan x="111.230">0</tspan></text><path d="M92.88,0.00 L84.09,0.00 L84.09,-53.83 L80.91,-50.91 L76.81,-47.95 L72.81,-45.43 L68.81,-43.53 L66.50,-42.70 L66.50,-50.87 L71.72,-53.21 L76.62,-56.70 L82.08,-61.33 L85.36,-65.42 L86.67,-68.79 L92.88,-68.79 Z" fill="#000" stroke="#000" stroke-width="1.67" stroke-linejoin="miter"/></g>
<g transform="translate(418.91,487.75) rotate(-90) scale(0.1770,0.1830)"><text x="0" y="0" font-size="100" fill="#000" stroke="#000" stroke-width="1.67"><tspan x="55.615">0</tspan><tspan x="111.230">4</tspan><tspan x="166.845">2</tspan></text><path d="M37.26,0.00 L28.47,0.00 L28.47,-53.83 L25.29,-50.91 L21.20,-47.95 L17.19,-45.43 L13.20,-43.53 L10.89,-42.70 L10.89,-50.87 L16.11,-53.21 L21.00,-56.70 L26.46,-61.33 L29.74,-65.42 L31.05,-68.79 L37.26,-68.79 Z" fill="#000" stroke="#000" stroke-width="1.67" stroke-linejoin="miter"/></g>
<g transform="translate(518.36,487.35) rotate(-90) scale(0.1770,0.1830)"><text x="0" y="0" font-size="100" fill="#000" stroke="#000" stroke-width="1.67"><tspan x="55.615">2</tspan><tspan x="111.230">7</tspan><tspan x="166.845">0</tspan></text><path d="M37.26,0.00 L28.47,0.00 L28.47,-53.83 L25.29,-50.91 L21.20,-47.95 L17.19,-45.43 L13.20,-43.53 L10.89,-42.70 L10.89,-50.87 L16.11,-53.21 L21.00,-56.70 L26.46,-61.33 L29.74,-65.42 L31.05,-68.79 L37.26,-68.79 Z" fill="#000" stroke="#000" stroke-width="1.67" stroke-linejoin="miter"/></g>
<g transform="translate(662.68,273.19) scale(0.2220,0.2260)"><text x="0" y="0" font-size="100" fill="#8000ff" stroke="#8000ff" stroke-width="1.34">7</text></g>
<g transform="translate(664.10,312.29) scale(0.2220,0.2260)"><text x="0" y="0" font-size="100" fill="#ff00ff" stroke="#ff00ff" stroke-width="1.34">5</text></g>
<g transform="translate(664.29,368.57) scale(0.2220,0.2260)"><text x="0" y="0" font-size="100" fill="#0000ff" stroke="#0000ff" stroke-width="1.34">3</text></g>
<g transform="translate(663.23,510.12) scale(0.2220,0.2260)"><text x="0" y="0" font-size="100" fill="#000000" stroke="#000000" stroke-width="1.34">0</text></g>
<g transform="translate(18.50,353.63) rotate(-90) scale(0.2480,0.2490)"><text x="0" y="0" font-size="100" fill="#000" stroke="#000" stroke-width="1.21">Intensity [arb.units]</text></g>
<g transform="translate(262.51,594.90) scale(0.2489,0.2460)"><text x="0" y="0" font-size="100" fill="#000" stroke="#000" stroke-width="1.21">Raman shift [cm</text></g>
<g transform="translate(441.32,583.97) scale(0.1700,0.1700)"><text x="0" y="0" font-size="100" fill="#000" stroke="#000" stroke-width="1.76">-</text></g>
<g transform="translate(447.55,584.86) scale(0.1500,0.1950)"><path d="M37.26,0.00 L28.47,0.00 L28.47,-53.83 L25.29,-50.91 L21.20,-47.95 L17.19,-45.43 L13.20,-43.53 L10.89,-42.70 L10.89,-50.87 L16.11,-53.21 L21.00,-56.70 L26.46,-61.33 L29.74,-65.42 L31.05,-68.79 L37.26,-68.79 Z" fill="#000" stroke="#000" stroke-width="1.74" stroke-linejoin="miter"/></g>
<g transform="translate(456.45,594.98) scale(0.2490,0.2490)"><text x="0" y="0" font-size="100" fill="#000" stroke="#000" stroke-width="1.20">]</text></g>
<g transform="translate(674.75,201.72) rotate(-90) scale(0.2220,0.2250)"><text x="0" y="0" font-size="100" fill="#8000ff" stroke="#8000ff" stroke-width="1.34">x [mol%]</text></g>
<line x1="668.4" y1="204.3" x2="668.4" y2="242" stroke="#8000ff" stroke-width="1.5"/>
<path d="M665.4,241.1 L671.4,241.1 L668.4,252.8 Z" fill="#8000ff"/>
</svg></body></html>
